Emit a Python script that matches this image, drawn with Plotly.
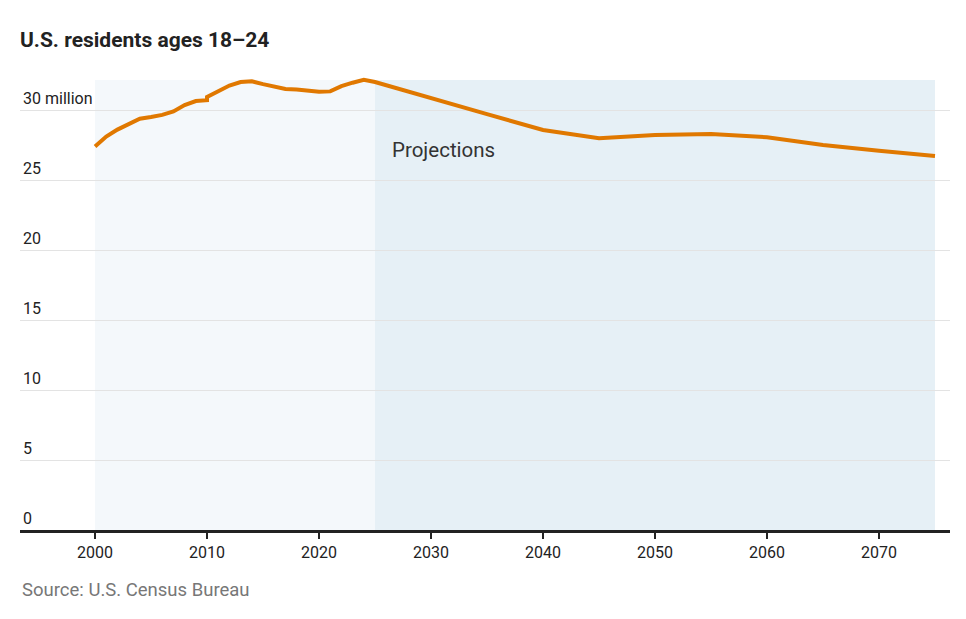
import plotly.graph_objects as go

# Historical estimates (2010 appears twice: end of 2000s series, start of 2010s series)
hist_years = [2000, 2001, 2002, 2003, 2004, 2005, 2006, 2007, 2008, 2009, 2010,
              2010, 2011, 2012, 2013, 2014, 2015, 2016, 2017, 2018, 2019, 2020,
              2021, 2022, 2023, 2024]
hist_values = [27.4, 28.1, 28.6, 29.0, 29.38, 29.5, 29.65, 29.9, 30.35, 30.64, 30.7,
               30.93, 31.35, 31.75, 32.0, 32.05, 31.85, 31.65, 31.5, 31.47, 31.4, 31.3,
               31.33, 31.7, 31.95, 32.15]

# Census projections
proj_years = [2025, 2030, 2035, 2040, 2045, 2050, 2055, 2060, 2065, 2070, 2075]
proj_values = [32.0, 30.83, 29.7, 28.57, 27.98, 28.21, 28.29, 28.05, 27.5, 27.09, 26.71]

y_ticks = [0, 5, 10, 15, 20, 25, 30]
y_tick_labels = ["0", "5", "10", "15", "20", "25", "30 million"]
x_ticks = [2000, 2010, 2020, 2030, 2040, 2050, 2060, 2070]

hist_span = [2000, 2025]
proj_span = [2025, 2075]
shade_top = 32.14

FONT = "Roboto, sans-serif"

fig = go.Figure()

fig.add_shape(type="rect", xref="x", yref="y", x0=hist_span[0], x1=hist_span[1],
              y0=0, y1=shade_top, fillcolor="#f4f8fb", line_width=0, layer="below")
fig.add_shape(type="rect", xref="x", yref="y", x0=proj_span[0], x1=proj_span[1],
              y0=0, y1=shade_top, fillcolor="#e6f0f6", line_width=0, layer="below")

fig.add_trace(go.Scatter(
    x=hist_years + proj_years,
    y=hist_values + proj_values,
    mode="lines",
    line=dict(color="#e07800", width=4),
    cliponaxis=False,
    hoverinfo="skip",
    showlegend=False,
))

fig.add_annotation(x=2026.3, y=27.14, xref="x", yref="y", text="Projections",
                   showarrow=False, xanchor="left", yanchor="middle",
                   font=dict(family=FONT, size=20.5, color="#333333"))

fig.update_layout(
    width=966, height=619,
    margin=dict(l=12, r=24, t=60, b=97),
    paper_bgcolor="white", plot_bgcolor="white",
    title=dict(text="<b>U.S. residents ages 18–24</b>", xref="container", yref="container",
               x=12/966, xanchor="left", y=1-32/619, yanchor="middle",
               font=dict(family=FONT, size=21, color="#222222")),
    xaxis=dict(range=[1993.3, 2076.34], tickvals=x_ticks, ticks="outside", ticklen=6,
               tickwidth=2, tickcolor="#222222", showgrid=False, zeroline=False,
               showline=True, linecolor="#222222", linewidth=2.5,
               tickfont=dict(family=FONT, size=16, color="#222222")),
    yaxis=dict(range=[0, 33], tickvals=y_ticks, ticktext=y_tick_labels,
               ticklabelposition="inside top", ticks="", showgrid=True,
               gridcolor="#e3e3e3", gridwidth=1, zeroline=False, showline=False,
               tickfont=dict(family=FONT, size=16, color="#222222")),
)

fig.add_annotation(xref="paper", yref="paper", x=0, y=-(590 - 530) / 462,
                   text="Source: U.S. Census Bureau", showarrow=False,
                   xanchor="left", yanchor="middle",
                   font=dict(family=FONT, size=18.5, color="#777777"))

fig.write_html("out.html")
